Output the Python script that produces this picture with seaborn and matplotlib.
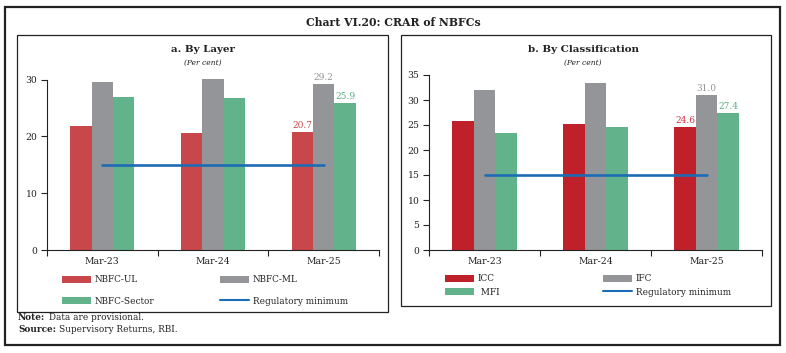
import matplotlib
matplotlib.use("Agg")
import matplotlib.pyplot as plt
import seaborn as sns
import pandas as pd
from matplotlib.patches import Rectangle, Patch
from matplotlib.lines import Line2D
from matplotlib.text import Annotation

# Podaci očitani s grafa
periods = ["Mar-23", "Mar-24", "Mar-25"]

# a. By Layer
layer_names = ["NBFC-UL", "NBFC-ML", "NBFC-Sector"]
nbfc_ul = [21.9, 20.6, 20.7]
nbfc_ml = [29.6, 30.1, 29.2]
nbfc_sector = [27.0, 26.7, 25.9]

# b. By Classification
class_names = ["ICC", "IFC", "MFI"]
icc = [25.8, 25.3, 24.6]
ifc = [32.1, 33.5, 31.0]
mfi = [23.4, 24.6, 27.4]

reg_min = [15, 15, 15]

layer_colors = ["#c8474a", "#939598", "#62b28b"]
class_colors = ["#c0202a", "#939598", "#62b28b"]
layer_label_colors = ["#c8474a", "#939598", "#5aab84"]
class_label_colors = ["#d03040", "#939598", "#5aab84"]
line_color = "#1b6cb5"


def long_df(names, series):
    rows = []
    for name, vals in zip(names, series):
        for p, v in zip(periods, vals):
            rows.append({"period": p, "series": name, "value": v})
    return pd.DataFrame(rows)


sns.set_style("white")
plt.rcParams["font.family"] = "DejaVu Serif"
plt.rcParams["text.color"] = "#222222"

W, H = 786, 353
fig = plt.figure(figsize=(W / 100, H / 100), dpi=100)


def fx(x):
    return x / W


def fy(y):
    return 1 - y / H


def draw_panel(ax, df, names, colors, label_colors, ylim, yticks):
    sns.barplot(data=df, x="period", y="value", hue="series", hue_order=names,
                palette=colors, width=0.58, saturation=1, legend=False,
                linewidth=0, edgecolor="none", ax=ax)
    for bars in ax.containers:
        for b in bars:
            b.set_clip_on(False)
    for bars, c in zip(ax.containers, label_colors):
        vals = [b.get_height() for b in bars]
        labels = [""] * (len(vals) - 1) + [f"{vals[-1]:.1f}"]
        ax.bar_label(bars, labels=labels, color=c, fontsize=6.5, padding=1.5)
    ax.plot(range(len(periods)), reg_min, color=line_color, lw=1.9)
    ax.set_xlim(-0.5, len(periods) - 0.5)
    ax.set_ylim(*ylim)
    ax.set_yticks(yticks)
    ax.set_xticks([-0.5, 0.5, 1.5, 2.5])
    ax.set_xticklabels([])
    ax.set_xticks(range(len(periods)), minor=True)
    ax.set_xticklabels(periods, minor=True)
    ax.tick_params(axis="x", which="major", length=4, width=0.8, direction="out",
                   bottom=True, color="#222222")
    ax.tick_params(axis="x", which="minor", length=0, pad=5, labelsize=6.7,
                   labelcolor="#222222")
    ax.tick_params(axis="y", length=4, width=0.8, direction="out", left=True,
                   pad=3, labelsize=6.7, labelcolor="#222222", color="#222222")
    ax.set_xlabel("")
    ax.set_ylabel("")
    for s in ["top", "right"]:
        ax.spines[s].set_visible(False)
    for s in ["left", "bottom"]:
        ax.spines[s].set_color("#222222")
        ax.spines[s].set_linewidth(0.8)


# Lijevi panel
ax1 = fig.add_axes([fx(47), fy(250), fx(379) - fx(47), (250 - 79.5) / H])
draw_panel(ax1, long_df(layer_names, [nbfc_ul, nbfc_ml, nbfc_sector]),
           layer_names, layer_colors, layer_label_colors, (0, 30), [0, 10, 20, 30])

# Desni panel
ax2 = fig.add_axes([fx(429), fy(250), fx(762) - fx(429), (250 - 75) / H])
draw_panel(ax2, long_df(class_names, [icc, ifc, mfi]),
           class_names, class_colors, class_label_colors, (0, 35),
           [0, 5, 10, 15, 20, 25, 30, 35])

# Okviri
fig.add_artist(Rectangle((fx(5), fy(345)), fx(780) - fx(5), (345 - 7) / H,
                         transform=fig.transFigure, fill=False, lw=1.6, ec="#222222"))
fig.add_artist(Rectangle((fx(17), fy(311.5)), fx(388) - fx(17), (311.5 - 35) / H,
                         transform=fig.transFigure, fill=False, lw=0.9, ec="#222222"))
fig.add_artist(Rectangle((fx(401), fy(305.5)), fx(771) - fx(401), (305.5 - 35) / H,
                         transform=fig.transFigure, fill=False, lw=0.9, ec="#222222"))

# Naslovi
fig.text(fx(393), fy(22.5), "Chart VI.20: CRAR of NBFCs", ha="center", va="center",
         fontsize=7.8, fontweight="bold")
fig.text(fx(203), fy(49), "a. By Layer", ha="center", va="center",
         fontsize=7.4, fontweight="bold")
fig.text(fx(203), fy(63), "(Per cent)", ha="center", va="center",
         fontsize=5.4, style="italic")
fig.text(fx(583), fy(49), "b. By Classification", ha="center", va="center",
         fontsize=7.4, fontweight="bold")
fig.text(fx(583), fy(63), "(Per cent)", ha="center", va="center",
         fontsize=5.4, style="italic")


# Legende
def add_legend(handles, labels, x, y, spacing):
    fig.legend(handles, labels, loc="center left", bbox_to_anchor=(fx(x), fy(y)),
               bbox_transform=fig.transFigure, frameon=False, fontsize=6.4,
               handlelength=3.3, handleheight=0.8, handletextpad=0.4,
               labelspacing=spacing, borderpad=0, borderaxespad=0)


def patch(c):
    return Patch(facecolor=c, edgecolor="none")


reg_line = Line2D([0], [0], color=line_color, lw=1.5)

add_legend([patch(layer_colors[0]), patch(layer_colors[2])],
           ["NBFC-UL", "NBFC-Sector"], 62, 290.5, 1.4)
add_legend([patch(layer_colors[1]), reg_line],
           ["NBFC-ML", "Regulatory minimum"], 220, 290.5, 1.4)
add_legend([patch(class_colors[0]), patch(class_colors[2])],
           ["ICC", " MFI"], 445, 285.5, 0.5)
add_legend([patch(class_colors[1]), reg_line],
           ["IFC", "Regulatory minimum"], 603, 285.5, 0.5)


# Napomene
def note(y, bold, rest):
    t = fig.text(fx(18), fy(y), bold, ha="left", va="center", fontsize=6.4,
                 fontweight="bold")
    fig.add_artist(Annotation(rest, xy=(1, 0.5), xycoords=t, xytext=(2.5, 0),
                              textcoords="offset points", ha="left", va="center",
                              fontsize=6.4))


note(317, "Note:", "Data are provisional.")
note(329, "Source:", "Supervisory Returns, RBI.")

fig.savefig("out.png", dpi=100)
